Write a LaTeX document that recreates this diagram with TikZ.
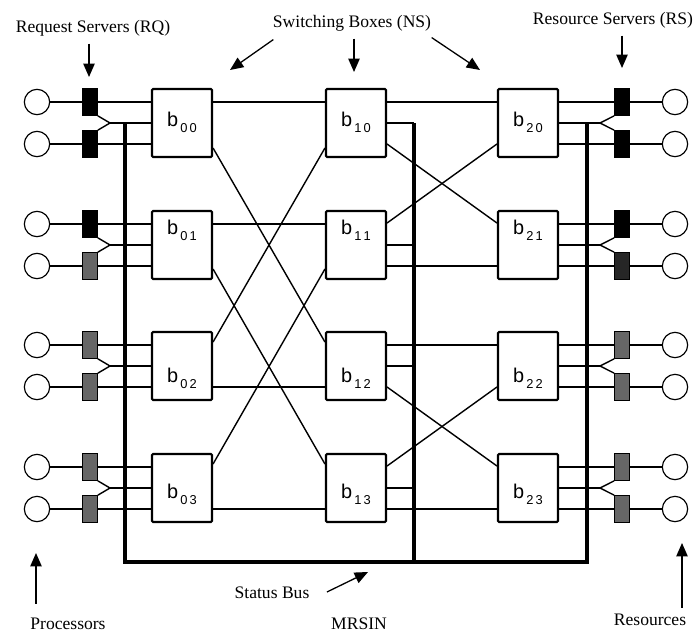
\documentclass[tikz,border=0pt]{standalone}
\usepackage{fontspec}
\setmainfont{Liberation Serif}
\setsansfont{Liberation Sans}
\usepackage{tikz}
\usetikzlibrary{positioning,arrows.meta,calc}

\begin{document}
\begin{tikzpicture}[x=0.03cm, y=-0.03cm,
  sw/.style={draw, line width=1.8pt, rounded corners=1pt, minimum width=1.8cm, minimum height=2.04cm, inner sep=0pt},
  lbl/.style={font=\sffamily\fontsize{17}{17}\selectfont, inner sep=0pt},
  pe/.style={draw, circle, line width=1pt, minimum size=0.76cm, inner sep=0pt},
  srv/.style={draw, line width=0.6pt, minimum width=0.45cm, minimum height=0.81cm, inner sep=0pt},
  wire/.style={line width=1.2pt},
  bus/.style={line width=3.4pt, line join=miter},
  txt/.style={font=\fontsize{15}{18}\selectfont, inner sep=2pt},
  arr/.style={line width=1.1pt, -{Triangle[length=4mm,width=3.4mm]}}]
\useasboundingbox (0,0) rectangle (700,636);
% switching boxes
\foreach \s/\x in {0/182,1/356,2/528}
  \foreach \r/\y/\ly in {0/123/122,1/245/230,2/366/378,3/488/494} {
    \node[sw] (b\s\r) at (\x,\y) {};
    \node[lbl] (l\s\r) at (\x,\ly) {b\raisebox{-0.55ex}{\fontsize{11}{11}\selectfont\,\s\,\r}};
  }
% links between the stages
\foreach \a/\da/\b/\db in {00/-21/10/-21, 00/25/12/-24, 01/-21/11/-21, 01/24/13/-24,
                           02/-24/10/25, 02/21/12/21, 03/-24/11/24, 03/21/13/21,
                           10/-21/20/-21, 10/21/21/-22, 11/-22/20/21, 11/21/21/21,
                           12/-21/22/-21, 12/21/23/-22, 13/-22/22/21, 13/21/23/21}
  \draw[wire] ($(b\a.east)+(0,\da)$) -- ($(b\b.west)+(0,\db)$);
% processors and request servers
\foreach \r/\y/\fa/\fb in {0/123/black/black, 1/245/black/black!60, 2/366/black!60/black!60, 3/488/black!60/black!60} {
  \node[pe] (pa\r) at (37,\y-21) {};
  \node[pe] (pb\r) at (37,\y+21) {};
  \draw[wire] (pa\r) -- (pa\r -| b0\r.west);
  \draw[wire] (pb\r) -- (pb\r -| b0\r.west);
  \node[srv, fill=\fa] (qa\r) at (90,\y-21) {};
  \node[srv, fill=\fb] (qb\r) at (90,\y+21) {};
  \coordinate (f\r) at (110,\y);
  \draw[wire] (qa\r.south east) -- (f\r) -- (qb\r.north east);
  \draw[wire] (f\r) -- (f\r -| b0\r.west);
}
% resources and resource servers
\foreach \r/\y/\fa/\fb in {0/123/black/black, 1/245/black/black!85, 2/366/black!60/black!60, 3/488/black!60/black!60} {
  \node[pe] (ra\r) at (675,\y-21) {};
  \node[pe] (rb\r) at (675,\y+21) {};
  \draw[wire] (ra\r -| b2\r.east) -- (ra\r);
  \draw[wire] (rb\r -| b2\r.east) -- (rb\r);
  \node[srv, fill=\fa] (sa\r) at (622,\y-21) {};
  \node[srv, fill=\fb] (sb\r) at (622,\y+21) {};
  \coordinate (g\r) at (600,\y);
  \draw[wire] (sa\r.south west) -- (g\r) -- (sb\r.north west);
  \draw[wire] (b2\r.east |- g\r) -- (g\r);
}
% status bus
\coordinate (bl) at (125,562);
\coordinate (bm) at (414,562);
\coordinate (br) at (587,562);
\foreach \r in {0,...,3} \draw[wire] (b1\r.east) -- (b1\r.east -| bm);
\draw[bus] (f0 -| bl) -- (bl) -- (br) -- (br |- g0);
\draw[bus] (b10.east -| bm) -- (bm);
% labels
\node[txt] (rq) at (93,28) {Request Servers (RQ)};
\node[txt] (ns) at (352,23) {Switching Boxes (NS)};
\node[txt] (rs) at (613,20) {Resource Servers (RS)};
\node[txt] (pr) at (68,624) {Processors};
\node[txt] (mr) at (359,624) {MRSIN};
\node[txt] (rc) at (650,620) {Resources};
\node[txt] (st) at (272,593) {Status Bus};
\coordinate (rqt) at (89,77);
\coordinate (nsl) at (230,70);
\coordinate (nsm) at (354,72);
\coordinate (nsr) at (480,70);
\coordinate (rst) at (622,68);
\coordinate (prt) at (36,553);
\coordinate (rct) at (682,543);
\coordinate (stt) at (368,572);
\draw[arr] (rq.south -| rqt) ++(0,5) -- (rqt);
\draw[arr] (ns.south west) ++(3,6) -- (nsl);
\draw[arr] (ns.south -| nsm) ++(0,5) -- (nsm);
\draw[arr] (ns.south east) ++(-2,4) -- (nsr);
\draw[arr] (rs.south -| rst) ++(0,5) -- (rst);
\draw[arr] (pr.north -| prt) ++(0,-12) -- (prt);
\draw[arr] (rc.north -| rct) ++(0,-4) -- (rct);
\draw[arr] (st.east) ++(15,-1) -- (stt);
\end{tikzpicture}
\end{document}
